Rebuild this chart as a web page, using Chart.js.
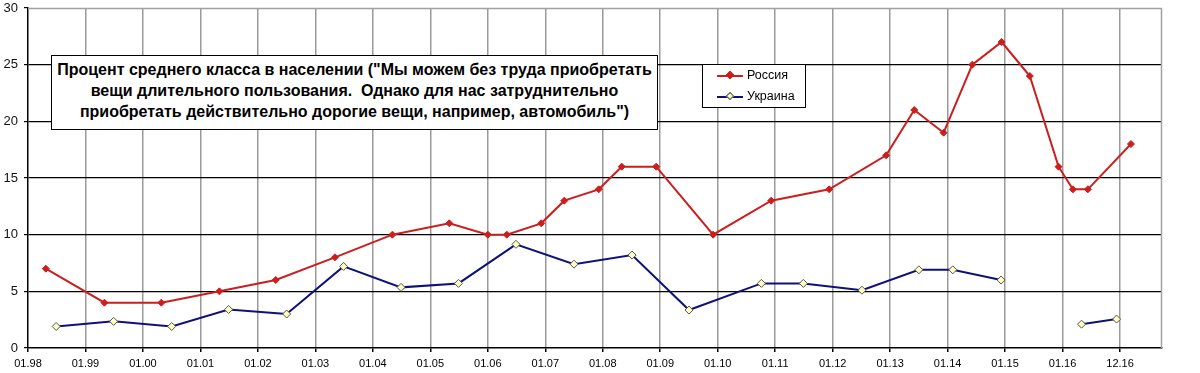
<!DOCTYPE html>
<html>
<head>
<meta charset="utf-8">
<script src="https://cdn.jsdelivr.net/npm/chart.js@4"></script>
<style>
    body { margin: 0; background: #fff; }
    #wrap { position: relative; width: 1200px; height: 373px; }
    #note {
        position: absolute; left: 51px; top: 55px; width: 605px; height: 70px;
        border: 1px solid #000; background: #fff;
        font: bold 16px "Liberation Sans", Arial, sans-serif; color: #000;
        text-align: center; line-height: 21px; padding-top: 3px; box-sizing: content-box;
        white-space: nowrap;
    }
    #legend {
        position: absolute; left: 702px; top: 64px; width: 102px; height: 42px;
        border: 1px solid #000; background: #fff;
        font: 12.5px "Liberation Sans", Arial, sans-serif; color: #000;
    }
    .item { position: absolute; left: 14px; height: 14px; }
    .item .ln { position: absolute; left: 0; top: 6px; width: 26px; height: 2px; }
    .item .mk { position: absolute; left: 10px; top: 3px; width: 6px; height: 6px; transform: rotate(45deg); box-sizing: border-box; }
    .item span { position: absolute; left: 30px; top: -1px; white-space: nowrap; }
</style>
</head>
<body>
<div id="wrap">
    <canvas id="chart" width="1200" height="373"></canvas>
    <div id="note">Процент среднего класса в населении ("Мы можем без труда приобретать<br>вещи длительного пользования.&nbsp; Однако для нас затруднительно<br>приобретать действительно дорогие вещи, например, автомобиль")</div>
    <div id="legend">
        <div class="item" style="top:4px"><div class="ln" style="background:#cc1e1e"></div><div class="mk" style="background:#cc1e1e;border:1px solid #cc1e1e"></div><span>Россия</span></div>
        <div class="item" style="top:25px"><div class="ln" style="background:#10107a"></div><div class="mk" style="background:#ffffc0;border:1px solid #555"></div><span>Украина</span></div>
    </div>
</div>
<script>
// x = годы от января 1998
const xLabels = ['01.98', '01.99', '01.00', '01.01', '01.02', '01.03', '01.04', '01.05', '01.06', '01.07',
    '01.08', '01.09', '01.10', '01.11', '01.12', '01.13', '01.14', '01.15', '01.16', '12.16'];

const russiaX = [0.31, 1.33, 2.32, 3.33, 4.31, 5.34, 6.34, 7.33, 8.0, 8.33, 8.93, 9.33, 9.93, 10.33, 10.93,
    11.92, 12.93, 13.94, 14.93, 15.42, 15.93, 16.43, 16.94, 17.43, 17.93, 18.18, 18.44, 19.19];
const russiaY = [7, 4, 4, 5, 6, 8, 10, 11, 10, 10, 11, 13, 14, 16, 16,
    10, 13, 14, 17, 21, 19, 25, 27, 24, 16, 14, 14, 18];

const ukraineX = [0.49, 1.49, 2.50, 3.49, 4.50, 5.49, 6.49, 7.49, 8.49, 9.50, 10.51, 11.50, 12.76, 13.49,
    14.51, 15.50, 16.09, 16.93, 17.6, 18.33, 18.94];
const ukraineY = [1.9, 2.35, 1.9, 3.4, 3.0, 7.2, 5.35, 5.7, 9.15, 7.4, 8.2, 3.35, 5.7, 5.7,
    5.1, 6.9, 6.9, 6.0, null, 2.1, 2.55];

const toPoints = (xs, ys) => xs.map((x, i) => ({ x: x, y: ys[i] }));

const frame = {
    id: 'frame',
    beforeDatasetsDraw(chart) {
        const a = chart.chartArea;
        const c = chart.ctx;
        c.save();
        c.strokeStyle = '#a0a0a0';
        c.lineWidth = 1.5;
        c.beginPath();
        c.moveTo(a.left, a.top + 0.5);
        c.lineTo(a.right - 0.5, a.top + 0.5);
        c.lineTo(a.right - 0.5, a.bottom);
        c.stroke();
        c.restore();
    }
};

new Chart(document.getElementById('chart'), {
    type: 'line',
    data: {
        datasets: [
            {
                label: 'Россия',
                data: toPoints(russiaX, russiaY),
                borderColor: '#cc1e1e',
                backgroundColor: '#cc1e1e',
                borderWidth: 2,
                pointStyle: 'rectRot',
                pointRadius: 3.5,
                pointBorderWidth: 1,
                tension: 0
            },
            {
                label: 'Украина',
                data: toPoints(ukraineX, ukraineY),
                borderColor: '#10107a',
                backgroundColor: '#ffffc0',
                pointBorderColor: '#555',
                borderWidth: 2,
                pointStyle: 'rectRot',
                pointRadius: 4,
                pointBorderWidth: 1,
                spanGaps: false,
                tension: 0
            }
        ]
    },
    options: {
        responsive: false,
        animation: false,
        layout: { padding: { top: 8, right: 38, left: 0, bottom: 0 } },
        plugins: { legend: { display: false }, tooltip: { enabled: false } },
        scales: {
            x: {
                type: 'linear',
                min: 0,
                max: 19.73,
                afterBuildTicks: (scale) => {
                    scale.ticks = xLabels.map((l, i) => ({ value: i }));
                },
                afterFit: (scale) => { scale.height = 25; },
                ticks: {
                    autoSkip: false,
                    maxRotation: 0,
                    padding: 5,
                    color: '#000',
                    font: { family: '"Liberation Sans", Arial, sans-serif', size: 11 },
                    callback: (v) => xLabels[v]
                },
                grid: {
                    color: (ctx) => ctx.tick && ctx.tick.value === 0 ? 'rgba(0,0,0,0)' : '#9a9a9a',
                    lineWidth: 1.5,
                    tickLength: 4,
                    tickColor: '#000'
                },
                border: { color: '#000', width: 1.5 }
            },
            y: {
                min: 0,
                max: 30,
                afterFit: (scale) => {
                    scale.width = 28;
                    scale.paddingTop = 0;
                    scale.paddingBottom = 0;
                },
                ticks: {
                    stepSize: 5,
                    padding: 6,
                    color: '#111',
                    font: { family: '"Liberation Sans", Arial, sans-serif', size: 13 }
                },
                grid: {
                    color: (ctx) => ctx.tick && (ctx.tick.value === 30 || ctx.tick.value === 0) ? 'rgba(0,0,0,0)' : '#000',
                    lineWidth: 1.2,
                    tickLength: 4,
                    tickColor: '#000'
                },
                border: { color: '#000', width: 1.5 }
            }
        }
    },
    plugins: [frame]
});
</script>
</body>
</html>
